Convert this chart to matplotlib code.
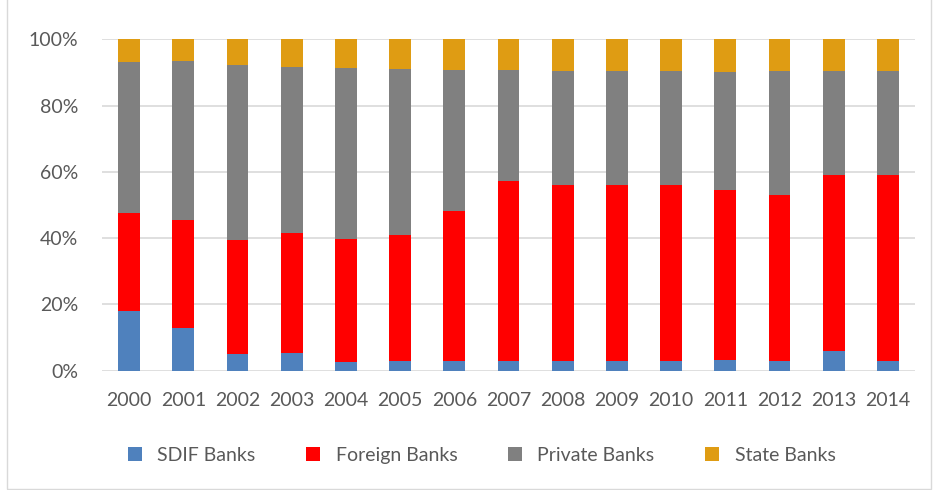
import numpy as np
import matplotlib
matplotlib.use('Agg')
import matplotlib.pyplot as plt
from matplotlib.patches import Rectangle

plt.rcParams['font.family'] = ['Lato', 'DejaVu Sans']

years = ['2000', '2001', '2002', '2003', '2004', '2005', '2006', '2007',
         '2008', '2009', '2010', '2011', '2012', '2013', '2014']
sdif = [18.0, 13.0, 5.1, 5.3, 2.7, 2.8, 2.8, 2.8, 2.9, 2.9, 2.9, 3.1, 2.9, 6.0, 2.9]
foreign = [29.5, 32.6, 34.2, 36.1, 37.1, 38.2, 45.5, 54.5, 53.2, 53.2, 53.2, 51.5, 50.1, 53.2, 56.3]
private = [45.8, 48.0, 52.8, 50.1, 51.5, 50.1, 42.5, 33.5, 34.4, 34.4, 34.4, 35.6, 37.5, 31.3, 31.3]
state = [6.7, 6.4, 7.9, 8.5, 8.7, 8.9, 9.2, 9.2, 9.5, 9.5, 9.5, 9.8, 9.5, 9.5, 9.5]

series = [('SDIF Banks', sdif, '#4f81bd'),
          ('Foreign Banks', foreign, '#ff0000'),
          ('Private Banks', private, '#808080'),
          ('State Banks', state, '#df9c13')]

fig = plt.figure(figsize=(9.33, 4.9), dpi=100)
ax = fig.add_axes([0.1093, 0.2435, 0.8714, 0.6763])

x = np.arange(len(years))
bottom = np.zeros(len(years))
for name, vals, col in series:
    vals = np.array(vals)
    ax.bar(x, vals, 0.4, bottom=bottom, color=col, label=name, zorder=3)
    bottom += vals

ax.set_xlim(-0.5, len(years) - 0.5)
ax.set_ylim(0, 100)
ax.set_yticks(np.arange(0, 101, 20))
ax.set_yticklabels(['%d%%' % v for v in range(0, 101, 20)])
ax.set_xticks(x)
ax.set_xticklabels(years)
ax.grid(axis='y', color='#d9d9d9', linewidth=1.2, zorder=0)
for s in ax.spines.values():
    s.set_visible(False)
ax.tick_params(length=0, labelsize=14, colors='#595959')
ax.tick_params(axis='x', pad=15)
ax.tick_params(axis='y', pad=17)

ax.legend(loc='center', bbox_to_anchor=(0.467, -0.255), ncol=4, frameon=False,
          fontsize=14, labelcolor='#595959', handlelength=0.72, handleheight=0.72,
          columnspacing=2.6, handletextpad=0.8)

fig.patches.append(Rectangle((0.0075, 0.002), 0.99, 1.1, transform=fig.transFigure,
                             fill=False, edgecolor='#d9d9d9', linewidth=1))

fig.savefig('out.png', dpi=100)
